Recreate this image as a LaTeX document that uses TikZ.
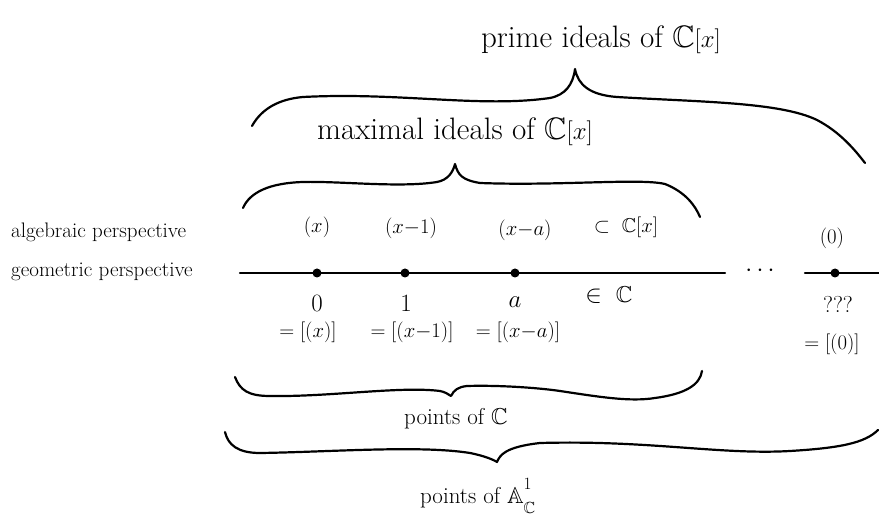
\documentclass[tikz,border=0pt]{standalone}
\usepackage{amssymb}
\begin{document}
\begin{tikzpicture}[x=1pt,y=-1pt,
  ink/.style={line width=2.2pt,line cap=round,line join=round},
  huge/.style={font=\fontsize{31}{36}\selectfont,inner sep=0pt},
  big/.style={font=\fontsize{23}{27}\selectfont,inner sep=0pt},
  mid/.style={font=\fontsize{21}{25}\selectfont,inner sep=0pt},
  small/.style={font=\fontsize{20}{23}\selectfont,inner sep=0pt},
  pt/.style={circle,fill=black,inner sep=0pt,minimum size=9pt}]
\useasboundingbox (0,0) rectangle (879,518);

% titles
\node[huge] (prime) at (601,40) {prime ideals of $\mathbb{C}[x]$};
\node[huge] (maximal) at (455,132) {maximal ideals of $\mathbb{C}[x]$};

% braces on top
\draw[ink] (252,126) .. controls (262,108) and (280,99) .. (303,97)
  .. controls (400,92) and (480,108) .. (550,98)
  .. controls (565,95) and (573,85) .. (575,69)
  .. controls (578,85) and (590,95) .. (617,97)
  .. controls (700,102) and (780,102) .. (817,120)
  .. controls (840,132) and (855,150) .. (865,163);
\draw[ink] (243,208) .. controls (250,192) and (270,183) .. (303,182)
  .. controls (340,181) and (400,188) .. (437,182)
  .. controls (448,180) and (453,172) .. (455,164)
  .. controls (458,175) and (462,180) .. (480,183)
  .. controls (560,186) and (640,178) .. (665,184)
  .. controls (685,192) and (695,205) .. (700,217);

% side labels
\node[mid,anchor=west] (alg) at (11,232) {algebraic perspective};
\node[mid,anchor=west] (geo) at (11,272) {geometric perspective};

% top row ideals
\node[small] (i0) at (317,227) {$(x)$};
\node[small] (i1) at (411,228) {$(x{-}1)$};
\node[small] (ia) at (525,230) {$(x{-}a)$};
\node[small] (sub) at (626,227) {$\subset\ \mathbb{C}[x]$};
\node[small] (igen) at (832,238) {$(0)$};

% line and points
\coordinate (lstart) at (240,273);
\coordinate (lend) at (725,273);
\coordinate (rstart) at (805,273);
\coordinate (rend) at (879,273);
\draw[ink] (lstart) -- (lend);
\draw[ink] (rstart) -- (rend);
\node[pt] (p0) at (317,273) {};
\node[pt] (p1) at (405,273) {};
\node[pt] (pa) at (515,273) {};
\node[pt] (pg) at (835,273) {};
\node[big] (dots) at (760,271) {$\cdots$};

% point labels
\node[big] (l0) at (317,303) {$0$};
\node[big] (l1) at (406,303) {$1$};
\node[big] (la) at (515,302) {$a$};
\node[big] (lin) at (609,295) {$\in\ \mathbb{C}$};
\node[big] (lq) at (838,304) {???};
\node[small] (e0) at (308,332) {$=[(x)]$};
\node[small] (e1) at (412,332) {$=[(x{-}1)]$};
\node[small] (ea) at (518,332) {$=[(x{-}a)]$};
\node[small] (eg) at (832,344) {$=[(0)]$};

% bottom braces
\draw[ink] (235,377) .. controls (240,390) and (248,396) .. (270,396)
  .. controls (330,397) and (400,386) .. (440,391)
  .. controls (445,392) and (448,394) .. (451,396)
  .. controls (454,390) and (458,387) .. (467,386)
  .. controls (500,385) and (540,388) .. (560,391)
  .. controls (600,397) and (630,402) .. (655,398)
  .. controls (685,394) and (700,385) .. (702,371);
\node[big] (ptsC) at (456,419) {points of $\mathbb{C}$};

\draw[ink] (225,432) .. controls (228,445) and (238,453) .. (260,453)
  .. controls (330,452) and (420,445) .. (470,453)
  .. controls (485,456) and (494,460) .. (497,462)
  .. controls (500,455) and (505,447) .. (540,443)
  .. controls (650,440) and (720,455) .. (790,451)
  .. controls (840,448) and (865,443) .. (878,430);
\node[big] (ptsA) at (478,496) {points of $\mathbb{A}^{\raisebox{4pt}{$\scriptstyle 1$}}_{\raisebox{-4pt}{$\scriptstyle\mathbb{C}$}}$};
\end{tikzpicture}
\end{document}
